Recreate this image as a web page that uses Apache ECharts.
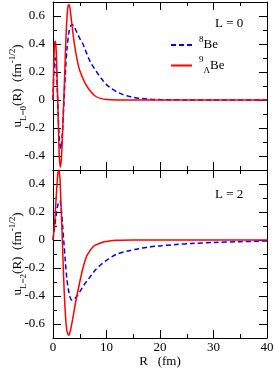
<!DOCTYPE html>
<html><head><meta charset="utf-8">
<script src="https://cdn.jsdelivr.net/npm/echarts@6/dist/echarts.min.js"></script>
<style>html,body{margin:0;padding:0;background:#fff}#c{width:275px;height:371px}</style>
</head><body><div id="c"></div>
<script>
// ---- data ----
const seriesNames = ['8Be', '9ΛBe'];
const xTicks = [0, 10, 20, 30, 40];
const yTicksTop = [-0.4, -0.2, 0, 0.2, 0.4, 0.6];
const yTicksBottom = [-0.6, -0.4, -0.2, 0, 0.2, 0.4];
const yTitleTop = '{t|u}{s|L=0}{t|(R)  (fm}{p|-1/2}{t|)}';
const yTitleBottom = '{t|u}{s|L=2}{t|(R)  (fm}{p|-1/2}{t|)}';

// L = 0, 8Be (blue dashed)
const R_L0_Be8 = [0,0.15,0.3,0.45,0.6,0.8,1.0,1.2,1.45,1.7,2.0,2.3,2.6,3.0,3.3,3.6,4.0,4.5,5.0,5.6,6.0,7.0,8.0,9.0,10,11,12,13,14,15,16,18,20,25,30,40];
const U_L0_Be8 = [0,0.18,0.28,0.30,0.24,0.08,-0.12,-0.29,-0.35,-0.27,-0.05,0.18,0.36,0.49,0.53,0.54,0.52,0.48,0.44,0.40,0.36,0.27,0.21,0.155,0.11,0.08,0.057,0.04,0.028,0.019,0.013,0.006,0.003,0.0005,0,0];
// L = 0, 9ΛBe (red solid)
const R_L0_Be9L = [0,0.1,0.2,0.3,0.45,0.6,0.75,0.9,1.05,1.2,1.4,1.6,1.8,2.0,2.2,2.4,2.6,2.8,3.0,3.2,3.5,4.0,4.5,5.0,6.0,7.0,8.0,9.0,10,12,15,40];
const U_L0_Be9L = [0,0.18,0.32,0.40,0.42,0.35,0.18,-0.03,-0.25,-0.42,-0.48,-0.40,-0.22,-0.02,0.20,0.42,0.58,0.67,0.68,0.65,0.55,0.40,0.29,0.21,0.12,0.062,0.025,0.01,0.004,0.0005,0,0];
// L = 2, 8Be (blue dashed)
const R_L2_Be8 = [0,0.3,0.6,0.9,1.25,1.5,1.8,2.0,2.3,2.6,3.0,3.3,3.6,4.0,4.5,5.0,6.0,7.0,8.0,9.0,10,11,12,14,16,18,20,23,26,30,35,40];
const U_L2_Be8 = [0,0.09,0.18,0.25,0.28,0.24,0.1,0,-0.15,-0.28,-0.38,-0.42,-0.43,-0.42,-0.40,-0.37,-0.31,-0.26,-0.21,-0.175,-0.145,-0.12,-0.10,-0.078,-0.062,-0.05,-0.042,-0.032,-0.025,-0.018,-0.012,-0.007];
// L = 2, 9ΛBe (red solid)
const R_L2_Be9L = [0,0.3,0.6,0.9,1.1,1.3,1.5,1.75,2.0,2.3,2.6,2.95,3.3,3.7,4.2,5.0,5.6,6.25,7.0,7.5,8.0,9.4,10,11.25,12,15,40];
const U_L2_Be9L = [0,0.12,0.31,0.47,0.50,0.44,0.25,0,-0.28,-0.52,-0.65,-0.68,-0.64,-0.56,-0.45,-0.30,-0.2,-0.12,-0.07,-0.048,-0.035,-0.014,-0.01,-0.003,-0.002,0,0];

const pairs = (xs, ys) => xs.map((x, i) => [x, ys[i]]);

const FONT = 'Liberation Serif';
const L = 53, R = 8, H = 168;
const topA = 2, topB = 170;
const black = '#000';

function minorY(gridIndex, pos, min, max) {
  return { gridIndex, type: 'value', position: pos, min, max, interval: 0.1,
    axisLine: { show: true, onZero: false, lineStyle: { color: black, width: 1 } },
    axisTick: { show: true, inside: true, length: 4, lineStyle: { color: black } },
    axisLabel: { show: false }, splitLine: { show: false } };
}
function majorY(gridIndex, pos, min, max, withLabels) {
  return { gridIndex, type: 'value', position: pos, min, max, interval: 0.2,
    axisLine: { show: false, onZero: false },
    axisTick: { show: true, inside: true, length: 8, lineStyle: { color: black } },
    axisLabel: { show: withLabels, margin: 8, align: 'right', color: black, fontFamily: FONT, fontSize: 13,
      formatter: v => (Math.abs(v) < 1e-9 ? '0' : String(+v.toFixed(1))) },
    splitLine: { show: false } };
}
function xAx(gridIndex, pos, labels, name) {
  const o = { gridIndex, type: 'value', position: pos, min: 0, max: 40, interval: 10,
    axisLine: { show: true, onZero: false, lineStyle: { color: black, width: 1 } },
    axisTick: { show: true, inside: true, length: 8, lineStyle: { color: black } },
    minorTick: { show: true, splitNumber: 2, length: 4, lineStyle: { color: black } },
    axisLabel: { show: labels, margin: 3, color: black, fontFamily: FONT, fontSize: 13 },
    splitLine: { show: false }, minorSplitLine: { show: false } };
  if (name) {
    o.name = name; o.nameLocation = 'middle'; o.nameGap = 17;
    o.nameTextStyle = { color: black, fontFamily: FONT, fontSize: 13 };
  }
  return o;
}
function hiddenX(gridIndex) {
  return { gridIndex, type: 'value', min: 0, max: 40, show: false };
}
const titleRich = {
  t: { fontFamily: FONT, fontSize: 13, fill: black, color: black, lineHeight: 14 },
  s: { fontFamily: FONT, fontSize: 9, fill: black, color: black, verticalAlign: 'bottom', lineHeight: 20 },
  p: { fontFamily: FONT, fontSize: 9, fill: black, color: black, verticalAlign: 'top', lineHeight: 20 }
};
function yTitle(text, cy) {
  return { type: 'text', x: 18, y: cy, rotation: Math.PI / 2, silent: true,
    style: { text, rich: titleRich, align: 'center', verticalAlign: 'middle',
      fill: black, font: '13px "Liberation Serif"' } };
}

const blueStyle = { color: '#0000ff', width: 1.5, type: [5, 3] };
const redStyle = { color: '#ff0000', width: 1.5, type: 'solid' };

const gridBase = { left: L, right: R, containLabel: false, outerBoundsMode: 'none' };
const option = {
  animation: false,
  backgroundColor: '#fff',
  grid: [
    Object.assign({ top: topA, height: H }, gridBase),
    Object.assign({ top: topA + 14, height: 140 }, gridBase),
    Object.assign({ top: topB, height: H }, gridBase),
    Object.assign({ top: topB + 14, height: 140 }, gridBase)
  ],
  xAxis: [
    xAx(0, 'bottom', false), xAx(0, 'top', false), hiddenX(1),
    xAx(2, 'bottom', true, 'R   (fm)'), xAx(2, 'top', false), hiddenX(3)
  ],
  yAxis: [
    minorY(0, 'left', -0.5, 0.7), minorY(0, 'right', -0.5, 0.7),
    majorY(1, 'left', yTicksTop[0], yTicksTop[yTicksTop.length - 1], true),
    majorY(1, 'right', yTicksTop[0], yTicksTop[yTicksTop.length - 1], false),
    minorY(2, 'left', -0.7, 0.5), minorY(2, 'right', -0.7, 0.5),
    majorY(3, 'left', yTicksBottom[0], yTicksBottom[yTicksBottom.length - 1], true),
    majorY(3, 'right', yTicksBottom[0], yTicksBottom[yTicksBottom.length - 1], false)
  ],
  legend: {
    orient: 'vertical', left: 165, top: 30, itemWidth: 21, itemHeight: 10, itemGap: 4,
    selectedMode: false,
    data: seriesNames,
    itemStyle: { opacity: 0 },
    textStyle: { color: black, fontFamily: FONT, fontSize: 13, padding: [0, 0, 0, 2],
      rich: {
        b: { fontFamily: FONT, fontSize: 13, color: black, lineHeight: 20 },
        sup: { fontFamily: FONT, fontSize: 9, color: black, verticalAlign: 'top', lineHeight: 20 },
        sub: { fontFamily: FONT, fontSize: 9, color: black, verticalAlign: 'bottom', lineHeight: 20 }
      } },
    formatter: n => n === '8Be' ? '{sup|8}{b|Be}' : '{sup|9}{sub|Λ}{b|Be}'
  },
  graphic: [
    { type: 'text', left: 215, top: 17, style: { text: 'L = 0', font: '13px "Liberation Serif"', fill: black } },
    { type: 'text', left: 215, top: 188, style: { text: 'L = 2', font: '13px "Liberation Serif"', fill: black } },
    yTitle(yTitleTop, topA + H / 2),
    yTitle(yTitleBottom, topB + H / 2)
  ],
  series: [
    { name: seriesNames[0], type: 'line', xAxisIndex: 0, yAxisIndex: 0, showSymbol: false, symbol: 'none', smooth: 0.3,
      lineStyle: blueStyle, itemStyle: { color: '#0000ff' }, data: pairs(R_L0_Be8, U_L0_Be8) },
    { name: seriesNames[1], type: 'line', xAxisIndex: 0, yAxisIndex: 0, showSymbol: false, symbol: 'none', smooth: 0.3,
      lineStyle: redStyle, itemStyle: { color: '#ff0000' }, data: pairs(R_L0_Be9L, U_L0_Be9L) },
    { name: seriesNames[0], type: 'line', xAxisIndex: 3, yAxisIndex: 4, showSymbol: false, symbol: 'none', smooth: 0.3,
      lineStyle: blueStyle, itemStyle: { color: '#0000ff' }, data: pairs(R_L2_Be8, U_L2_Be8) },
    { name: seriesNames[1], type: 'line', xAxisIndex: 3, yAxisIndex: 4, showSymbol: false, symbol: 'none', smooth: 0.3,
      lineStyle: redStyle, itemStyle: { color: '#ff0000' }, data: pairs(R_L2_Be9L, U_L2_Be9L) }
  ]
};
const chart = echarts.init(document.getElementById('c'), null, { renderer: 'canvas' });
chart.setOption(option);
</script>
</body></html>
